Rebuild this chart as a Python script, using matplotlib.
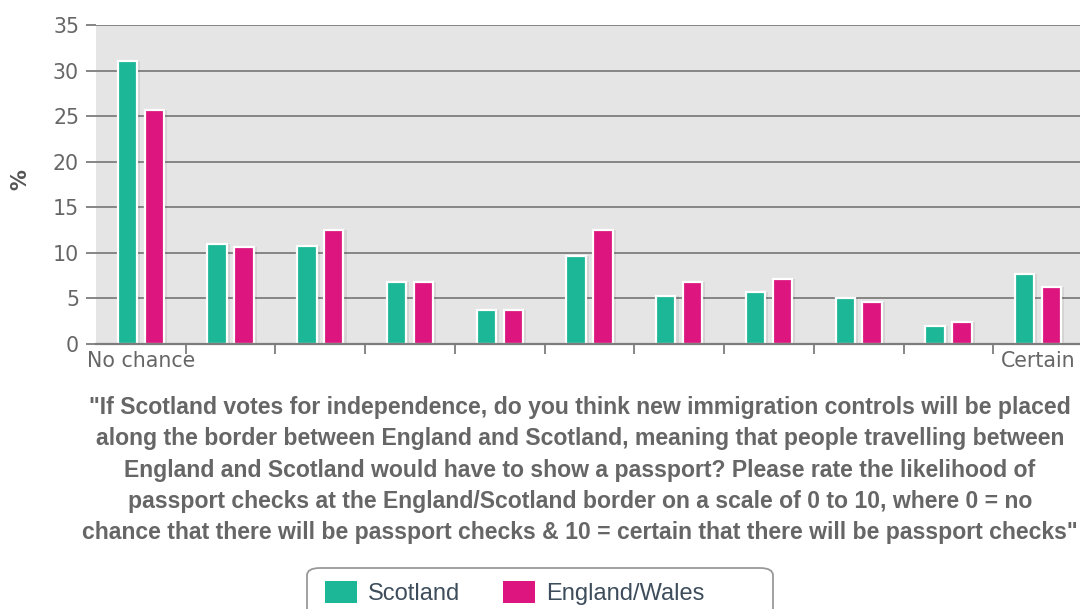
import matplotlib.pyplot as plt
import numpy as np
from matplotlib.patches import Patch, FancyBboxPatch

# Likelihood of passport checks, 0 (no chance) .. 10 (certain), % of respondents
scale_points = list(range(11))
scotland = [31.0, 11.0, 10.8, 6.8, 3.7, 9.7, 5.3, 5.7, 5.1, 2.0, 7.7]
england_wales = [25.7, 10.6, 12.5, 6.8, 3.7, 12.5, 6.8, 7.1, 4.6, 2.4, 6.2]
series_names = ['Scotland', 'England/Wales']
end_labels = ['No chance', 'Certain']

question = ('"If Scotland votes for independence, do you think new immigration controls will be placed\n'
            'along the border between England and Scotland, meaning that people travelling between\n'
            'England and Scotland would have to show a passport? Please rate the likelihood of\n'
            'passport checks at the England/Scotland border on a scale of 0 to 10, where 0 = no\n'
            'chance that there will be passport checks & 10 = certain that there will be passport checks"')

teal = '#1bb797'
magenta = '#dd157f'
grid_col = '#7d7d7d'
label_col = '#666666'

fig = plt.figure(figsize=(10.8, 6.09), dpi=100)
W, H = 1080, 609
ax = fig.add_axes([96 / W, (H - 344) / H, 987 / W, (344 - 25) / H])
ax.set_facecolor('#e5e5e5')

x = np.arange(len(scale_points))
width = 0.215
off = 0.15

# soft shadows behind the bars
for vals, dx in [(scotland, -off), (england_wales, off)]:
    ax.bar(x + dx + 0.025, vals, width + 0.02, color='#000000', alpha=0.08,
           linewidth=0, zorder=2)

ax.bar(x - off, scotland, width, color=teal, edgecolor='white', linewidth=1.6, zorder=3)
ax.bar(x + off, england_wales, width, color=magenta, edgecolor='white', linewidth=1.6, zorder=3)

ax.set_xlim(-0.5, len(scale_points) - 0.5)
ax.set_ylim(0, 35)
ax.set_yticks(np.arange(0, 36, 5))
ax.yaxis.grid(True, color=grid_col, linewidth=1.3, zorder=1)
ax.set_axisbelow(True)

ax.set_xticks([0, 10])
ax.set_xticklabels(end_labels)
ax.set_xticks(np.arange(0.5, 10, 1), minor=True)
ax.tick_params(axis='x', which='major', length=0, pad=5, labelsize=14.8, labelcolor=label_col)
ax.tick_params(axis='x', which='minor', length=7, width=1.3, color=grid_col)
ax.tick_params(axis='y', length=7.2, width=1.3, color=grid_col, pad=5,
               labelsize=14.8, labelcolor=label_col)

for s in ['top', 'right', 'left']:
    ax.spines[s].set_visible(False)
ax.spines['bottom'].set_color(grid_col)
ax.spines['bottom'].set_linewidth(1.6)
ax.spines['bottom'].set_zorder(4)

fig.text(20 / W, 1 - 180 / H, '%', rotation=90, ha='center', va='center',
         fontsize=15, fontweight='bold', color='#555555')

fig.text(580 / W, 1 - 470 / H, question, ha='center', va='center',
         fontsize=16.6, fontweight='bold', color='#666666',
         family='Liberation Sans', linespacing=1.47)

# legend box, its bottom edge falls below the canvas
frame = FancyBboxPatch((307 / W, -20 / H), (773 - 307) / W, (609 + 20 - 568) / H,
                       boxstyle='round,pad=0,rounding_size=0.012',
                       transform=fig.transFigure, facecolor='white',
                       edgecolor='#999999', linewidth=1.3)
fig.patches.append(frame)

handles = [Patch(facecolor=teal, edgecolor='none'), Patch(facecolor=magenta, edgecolor='none')]
leg = fig.legend(handles, series_names, loc='center left', ncol=2,
                 bbox_to_anchor=(325 / W, 1 - 593 / H),
                 prop={'family': 'Liberation Sans', 'size': 17},
                 handlelength=1.36, handleheight=1.06, handletextpad=0.47,
                 columnspacing=1.8, borderpad=0, borderaxespad=0, frameon=False)
for t in leg.get_texts():
    t.set_color('#3d4d5c')

fig.savefig('out.png', dpi=100)
